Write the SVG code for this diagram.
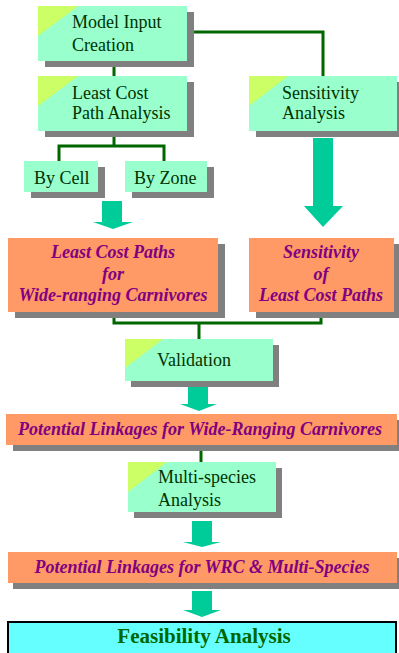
<svg xmlns="http://www.w3.org/2000/svg" width="399" height="653" viewBox="0 0 399 653">
<style>
.shadow{fill:#808080}
.mint{fill:#99FFCC}
.tri{fill:#CCFF66}
.orange{fill:#FF9966}
.line{fill:none;stroke:#006600;stroke-width:3}
.arrow{fill:#00CC99}
.t{font-family:"Liberation Serif","Times New Roman",serif;font-size:18px;fill:#003300}
.o{font-family:"Liberation Serif","Times New Roman",serif;font-size:18px;font-weight:bold;font-style:italic;fill:#800080;text-anchor:middle}
.f{font-family:"Liberation Serif","Times New Roman",serif;font-size:21px;font-weight:bold;fill:#006600;text-anchor:middle}
</style>
<rect width="399" height="653" fill="#FFFFFF"/>
<g id="connectors">
<polyline class="line" points="193,32 323,32 323,76"/>
<line class="line" x1="114" y1="61" x2="114" y2="76"/>
<polyline class="line" points="114,131 114,146"/>
<polyline class="line" points="59,161 59,146 164,146 164,161"/>
<polyline class="line" points="114,312 114,323 321,323 321,312"/>
<line class="line" x1="199" y1="323" x2="199" y2="339"/>
<line class="line" x1="201" y1="445" x2="201" y2="463"/>
<polygon class="arrow" points="102,201 122,201 122,222 133,222 113,229 93,222 102,222"/>
<polygon class="arrow" points="313,138 333,138 333,206 343,206 323,227 304,206 313,206"/>
<polygon class="arrow" points="188,387 208,387 208,404 217,404 199,411 180,404 188,404"/>
<polygon class="arrow" points="192,521 212,521 212,542 221,542 202,547 183,542 192,542"/>
<polygon class="arrow" points="192,591 212,591 212,610 221,610 202,617 183,610 192,610"/>
</g>
<g id="model-input">
<rect class="shadow" x="45" y="12" width="149" height="55"/>
<rect class="mint" x="38" y="6" width="149" height="55"/>
<polygon class="tri" points="38,6 78,6 38,36"/>
<text class="t" x="72" y="28">Model Input</text>
<text class="t" x="72" y="51">Creation</text>
</g>
<g id="least-cost-path-analysis">
<rect class="shadow" x="45" y="82" width="149" height="55"/>
<rect class="mint" x="38" y="76" width="149" height="55"/>
<polygon class="tri" points="38,76 78,76 38,106"/>
<text class="t" x="72" y="99">Least Cost</text>
<text class="t" x="72" y="119">Path Analysis</text>
</g>
<g id="sensitivity-analysis">
<rect class="shadow" x="256" y="82" width="149" height="55"/>
<rect class="mint" x="249" y="76" width="148" height="55"/>
<polygon class="tri" points="249,76 288,76 249,106"/>
<text class="t" x="282" y="99">Sensitivity</text>
<text class="t" x="282" y="119">Analysis</text>
</g>
<g id="by-cell">
<rect class="shadow" x="31" y="167" width="74" height="31"/>
<rect class="mint" x="24" y="161" width="74" height="31"/>
<text class="t" x="34" y="184">By Cell</text>
</g>
<g id="by-zone">
<rect class="shadow" x="132" y="167" width="82" height="31"/>
<rect class="mint" x="125" y="161" width="82" height="31"/>
<text class="t" x="134" y="184">By Zone</text>
</g>
<g id="lcp-wrc">
<rect class="shadow" x="15" y="244" width="210" height="74"/>
<rect class="orange" x="8" y="238" width="210" height="74"/>
<text class="o" x="113" y="258">Least Cost Paths</text>
<text class="o" x="113" y="280">for</text>
<text class="o" x="113" y="301">Wide-ranging Carnivores</text>
</g>
<g id="sensitivity-lcp">
<rect class="shadow" x="256" y="244" width="145" height="74"/>
<rect class="orange" x="249" y="238" width="145" height="74"/>
<text class="o" x="321" y="258">Sensitivity</text>
<text class="o" x="321" y="280">of</text>
<text class="o" x="321" y="301">Least Cost Paths</text>
</g>
<g id="validation">
<rect class="shadow" x="131" y="345" width="148" height="42"/>
<rect class="mint" x="125" y="339" width="148" height="42"/>
<polygon class="tri" points="125,339 163,339 125,368"/>
<text class="t" x="157" y="366">Validation</text>
</g>
<g id="potential-linkages-wrc">
<rect class="shadow" x="13" y="420" width="392" height="31"/>
<rect class="orange" x="6" y="414" width="391" height="31"/>
<text class="o" x="200" y="435">Potential Linkages for Wide-Ranging Carnivores</text>
</g>
<g id="multi-species">
<rect class="shadow" x="134" y="468" width="148" height="50"/>
<rect class="mint" x="128" y="462" width="148" height="50"/>
<polygon class="tri" points="128,462 167,462 128,492"/>
<text class="t" x="158" y="483">Multi-species</text>
<text class="t" x="158" y="506">Analysis</text>
</g>
<g id="potential-linkages-multi">
<rect class="shadow" x="13" y="558" width="392" height="31"/>
<rect class="orange" x="8" y="552" width="389" height="31"/>
<text class="o" x="202" y="573">Potential Linkages for WRC &amp; Multi-Species</text>
</g>
<g id="feasibility">
<rect x="8" y="622" width="388" height="40" fill="#66FFFF" stroke="#000000" stroke-width="2"/>
<text class="f" x="204" y="643">Feasibility Analysis</text>
</g>
</svg>
